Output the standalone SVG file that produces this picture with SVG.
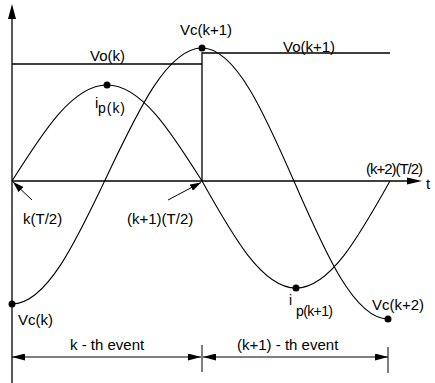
<svg xmlns="http://www.w3.org/2000/svg" width="435" height="383" viewBox="0 0 435 383">
<defs>
<style>
.ln{stroke:#000;stroke-width:1.3;fill:none}
.cv{stroke:#000;stroke-width:1.1;fill:none}
.th{stroke:#000;stroke-width:1;fill:none}
.dot{fill:#000}
text{font-family:"Liberation Sans",Arial,sans-serif;font-size:15px;fill:#000}
.sub{font-size:14px}
</style>
<marker id="dim" viewBox="0 0 13 7" refX="13" refY="3.5" markerWidth="13" markerHeight="7" markerUnits="userSpaceOnUse" orient="auto-start-reverse">
<path d="M0,0 L13,3.5 L0,7 z" fill="#000"/>
</marker>
<marker id="ptr" viewBox="0 0 11 7" refX="11" refY="3.5" markerWidth="11" markerHeight="7" markerUnits="userSpaceOnUse" orient="auto">
<path d="M0,0 L11,3.5 L0,7 z" fill="#000"/>
</marker>
</defs>
<rect width="435" height="383" fill="#fff"/>
<g id="axes">
<line class="ln" x1="12" y1="18" x2="12" y2="383"/>
<polygon points="12,4 8,19 16,19" fill="#000"/>
<line class="ln" x1="12" y1="181" x2="408" y2="181"/>
<polygon points="422,181 407,177.5 407,184.5" fill="#000"/>
<text x="426" y="189">t</text>
</g>
<g id="vo">
<line class="ln" x1="12" y1="64" x2="202" y2="64"/>
<polyline class="ln" points="202,181 202,53 390,53"/>
<text x="90" y="61">Vo(k)</text>
<text x="283" y="52">Vo(k+1)</text>
</g>
<g id="ip">
<path class="cv" d="M12,181 C43,131.8 72.6,85 107,85 C141.4,85 171,131.8 202,181 C232.7,235.8 262,288 296,288 C330,288 359.3,235.8 390,181"/>
<circle class="dot" cx="107" cy="85" r="3.5"/>
<circle class="dot" cx="296" cy="288" r="3.5"/>
<text x="95" y="108">i</text>
<text class="sub" x="98" y="113" textLength="27">p(k)</text>
<text class="sub" x="289" y="305">i</text>
<text class="sub" x="296" y="316" textLength="37">p(k+1)</text>
</g>
<g id="vc">
<path class="cv" d="M12,304 C46.4,304 76,241.6 107,176 C138,110.4 167.6,48 202,48 C235.7,48 264.7,114.1 295,183.5 C325.3,252.9 354.3,319 388,319"/>
<circle class="dot" cx="12" cy="304" r="3.5"/>
<circle class="dot" cx="202" cy="48" r="3.5"/>
<circle class="dot" cx="388" cy="319" r="3.5"/>
<text x="18" y="325">Vc(k)</text>
<text x="180" y="35">Vc(k+1)</text>
<text x="372" y="310">Vc(k+2)</text>
</g>
<g id="times">
<line class="th" x1="32" y1="200" x2="13" y2="182" marker-end="url(#ptr)"/>
<line class="th" x1="168" y1="200" x2="201" y2="182.5" marker-end="url(#ptr)"/>
<text x="23" y="224">k(T/2)</text>
<text x="127" y="224">(k+1)(T/2)</text>
<text x="366" y="174" textLength="57">(k+2)(T/2)</text>
</g>
<g id="events">
<line class="th" x1="12" y1="357" x2="201" y2="357" marker-start="url(#dim)" marker-end="url(#dim)"/>
<line class="th" x1="203" y1="357" x2="388" y2="357" marker-start="url(#dim)" marker-end="url(#dim)"/>
<line class="th" x1="202" y1="345" x2="202" y2="372"/>
<line class="th" x1="388" y1="347" x2="388" y2="373"/>
<text x="70" y="350">k - th event</text>
<text x="237" y="350">(k+1) - th event</text>
</g>
</svg>
